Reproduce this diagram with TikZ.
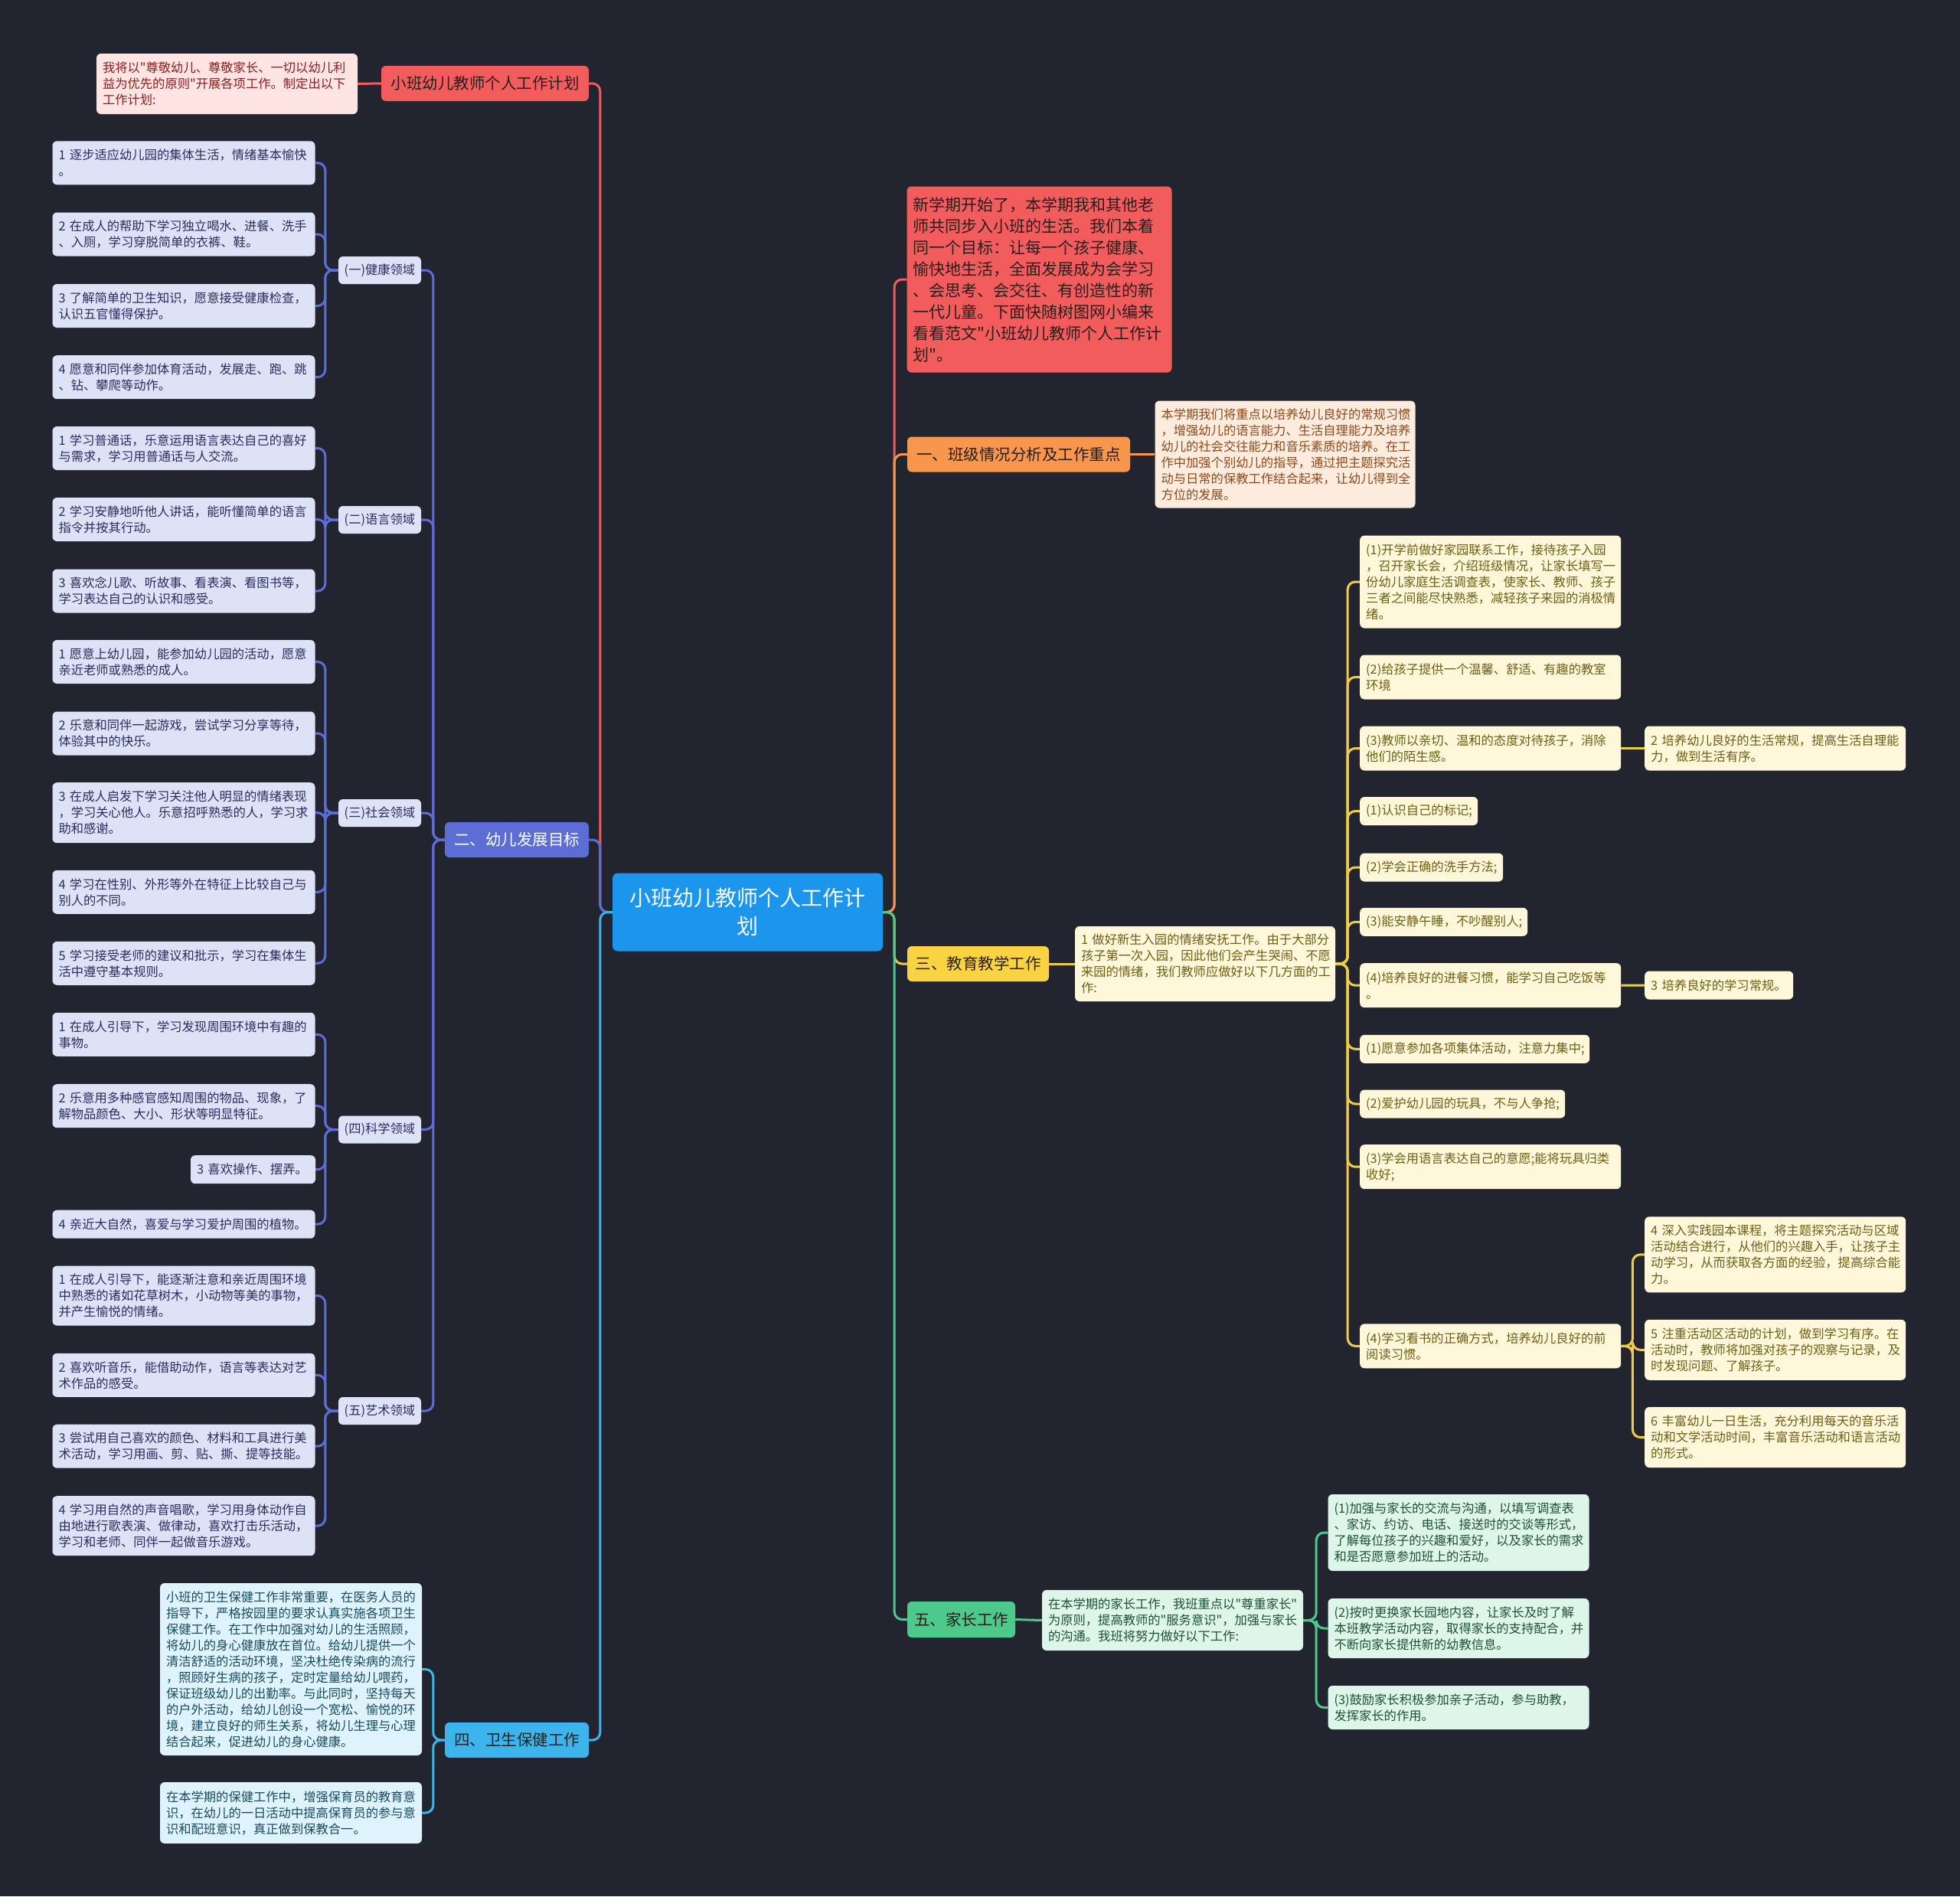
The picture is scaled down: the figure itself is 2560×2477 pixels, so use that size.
\documentclass[tikz,border=0pt]{standalone}
\usepackage{fontspec}
\setmainfont{Noto Sans CJK SC}[Ligatures=TeXOff]
\usetikzlibrary{backgrounds}
\definecolor{bg}{RGB}{34,37,47}
\definecolor{rootC}{RGB}{28,150,236}
\definecolor{redC}{RGB}{242,92,92}
\definecolor{redL}{RGB}{255,228,228}
\definecolor{redT}{RGB}{140,30,30}
\definecolor{oraC}{RGB}{247,150,76}
\definecolor{oraL}{RGB}{253,236,221}
\definecolor{oraT}{RGB}{140,74,28}
\definecolor{yelC}{RGB}{250,211,66}
\definecolor{yelL}{RGB}{254,247,218}
\definecolor{yelT}{RGB}{110,94,20}
\definecolor{yelLine}{RGB}{240,204,70}
\definecolor{grnC}{RGB}{77,201,139}
\definecolor{grnL}{RGB}{222,245,233}
\definecolor{grnT}{RGB}{30,80,52}
\definecolor{purC}{RGB}{92,110,214}
\definecolor{purL}{RGB}{222,226,246}
\definecolor{purT}{RGB}{40,46,92}
\definecolor{bluC}{RGB}{62,180,236}
\definecolor{bluL}{RGB}{222,243,252}
\definecolor{bluT}{RGB}{24,74,96}
\definecolor{darkT}{RGB}{40,30,30}
\begin{document}
\begin{tikzpicture}[x=1pt,y=-1pt,
  boxS/.style={rounded corners=6pt, inner xsep=8pt, inner ysep=0pt, align=left, font=\fontsize{16.3}{21}\selectfont},
  ttlS/.style={rounded corners=6pt, inner xsep=8pt, inner ysep=0pt, align=center, minimum height=46pt, font=\fontsize{20.5}{26}\selectfont},
  rootS/.style={rounded corners=7pt, inner xsep=8pt, inner ysep=0pt, align=center, fill=rootC, text=white, text width=337pt, minimum height=102pt, font=\fontsize{28}{37}\selectfont},
  lvS/.style={boxS, fill=purL, text=purT, text width=327pt},
  domS/.style={boxS, align=center, fill=purL, text=purT, text width=94pt, inner xsep=7pt, minimum height=36pt},
  blS/.style={boxS, fill=bluL, text=bluT, text width=326pt},
  ylS/.style={boxS, fill=yelL, text=yelT, anchor=west},
  ylW/.style={ylS, text width=325pt},
  grS/.style={boxS, fill=grnL, text=grnT, text width=325pt},
  conn/.style={line width=3pt, rounded corners=10pt}]
\useasboundingbox (0,0) rectangle (2560,2477);

% root
\node[rootS] (root) at (976.5,1191.5) {小班幼儿教师个人工作计\\划};

% ---------- left side ----------
\node[ttlS, fill=redC, text=darkT, text width=255pt] (t1) at (633.5,109) {小班幼儿教师个人工作计划};
\node[boxS, fill=redL, text=redT, text width=325pt, minimum height=79pt] (n1) at (296.5,109.5) {我将以"尊敬幼儿、尊敬家长、一切以幼儿利\\益为优先的原则"开展各项工作。制定出以下\\工作计划:};

\node[ttlS, fill=purC, text=white, text width=172pt] (L2) at (675,1097) {二、幼儿发展目标};
\node[ttlS, fill=bluC, text=darkT, text width=172pt] (L4) at (675,2273) {四、卫生保健工作};

\node[domS] (d1) at (496,353) {(一)健康领域};
\node[domS] (d2) at (496,679) {(二)语言领域};
\node[domS] (d3) at (496,1062) {(三)社会领域};
\node[domS] (d4) at (496,1475.5) {(四)科学领域};
\node[domS] (d5) at (496,1843) {(五)艺术领域};

\node[lvS, minimum height=57pt] (h1) at (240,212.8) {1 逐步适应幼儿园的集体生活，情绪基本愉快\\。};
\node[lvS, minimum height=57pt] (h2) at (240,306) {2 在成人的帮助下学习独立喝水、进餐、洗手\\、入厕，学习穿脱简单的衣裤、鞋。};
\node[lvS, minimum height=57pt] (h3) at (240,399.5) {3 了解简单的卫生知识，愿意接受健康检查，\\认识五官懂得保护。};
\node[lvS, minimum height=57pt] (h4) at (240,492.7) {4 愿意和同伴参加体育活动，发展走、跑、跳\\、钻、攀爬等动作。};

\node[lvS, minimum height=57pt] (l1) at (240,585.5) {1 学习普通话，乐意运用语言表达自己的喜好\\与需求，学习用普通话与人交流。};
\node[lvS, minimum height=57pt] (l2) at (240,678.5) {2 学习安静地听他人讲话，能听懂简单的语言\\指令并按其行动。};
\node[lvS, minimum height=57pt] (l3) at (240,772) {3 喜欢念儿歌、听故事、看表演、看图书等，\\学习表达自己的认识和感受。};

\node[lvS, minimum height=57pt] (s1) at (240,864.5) {1 愿意上幼儿园，能参加幼儿园的活动，愿意\\亲近老师或熟悉的成人。};
\node[lvS, minimum height=57pt] (s2) at (240,958) {2 乐意和同伴一起游戏，尝试学习分享等待，\\体验其中的快乐。};
\node[lvS, minimum height=79pt] (s3) at (240,1061.7) {3 在成人启发下学习关注他人明显的情绪表现\\，学习关心他人。乐意招呼熟悉的人，学习求\\助和感谢。};
\node[lvS, minimum height=57pt] (s4) at (240,1165.3) {4 学习在性别、外形等外在特征上比较自己与\\别人的不同。};
\node[lvS, minimum height=57pt] (s5) at (240,1258.3) {5 学习接受老师的建议和批示，学习在集体生\\活中遵守基本规则。};

\node[lvS, minimum height=57pt] (c1) at (240,1351.3) {1 在成人引导下，学习发现周围环境中有趣的\\事物。};
\node[lvS, minimum height=57pt] (c2) at (240,1444.7) {2 乐意用多种感官感知周围的物品、现象，了\\解物品颜色、大小、形状等明显特征。};
\node[lvS, text width=147pt, minimum height=37pt] (c3) at (330.5,1527.7) {3 喜欢操作、摆弄。};
\node[lvS, minimum height=37pt] (c4) at (240,1599.2) {4 亲近大自然，喜爱与学习爱护周围的植物。};

\node[lvS, minimum height=78pt] (a1) at (240,1692.5) {1 在成人引导下，能逐渐注意和亲近周围环境\\中熟悉的诸如花草树木，小动物等美的事物，\\并产生愉悦的情绪。};
\node[lvS, minimum height=57pt] (a2) at (240,1796.3) {2 喜欢听音乐，能借助动作，语言等表达对艺\\术作品的感受。};
\node[lvS, minimum height=57pt] (a3) at (240,1889.2) {3 尝试用自己喜欢的颜色、材料和工具进行美\\术活动，学习用画、剪、贴、撕、提等技能。};
\node[lvS, minimum height=78pt] (a4) at (240,1993.2) {4 学习用自然的声音唱歌，学习用身体动作自\\由地进行歌表演、做律动，喜欢打击乐活动，\\学习和老师、同伴一起做音乐游戏。};

\node[blS, minimum height=225pt] (b1) at (380,2180.5) {小班的卫生保健工作非常重要，在医务人员的\\指导下，严格按园里的要求认真实施各项卫生\\保健工作。在工作中加强对幼儿的生活照顾，\\将幼儿的身心健康放在首位。给幼儿提供一个\\清洁舒适的活动环境，坚决杜绝传染病的流行\\，照顾好生病的孩子，定时定量给幼儿喂药，\\保证班级幼儿的出勤率。与此同时，坚持每天\\的户外活动，给幼儿创设一个宽松、愉悦的环\\境，建立良好的师生关系，将幼儿生理与心理\\结合起来，促进幼儿的身心健康。};
\node[blS, minimum height=80pt] (b2) at (380,2368) {在本学期的保健工作中，增强保育员的教育意\\识，在幼儿的一日活动中提高保育员的参与意\\识和配班意识，真正做到保教合一。};

% ---------- right side ----------
\node[boxS, fill=redC, text=darkT, text width=330pt, minimum height=243pt, font=\fontsize{21}{28}\selectfont] (r0) at (1357.5,365) {新学期开始了，本学期我和其他老\\师共同步入小班的生活。我们本着\\同一个目标：让每一个孩子健康、\\愉快地生活，全面发展成为会学习\\、会思考、会交往、有创造性的新\\一代儿童。下面快随树图网小编来\\看看范文"小班幼儿教师个人工作计\\划"。};

\node[ttlS, fill=oraC, text=darkT, text width=275pt] (r1) at (1330.5,593.5) {一、班级情况分析及工作重点};
\node[boxS, fill=oraL, text=oraT, text width=324pt, minimum height=140pt] (r1n) at (1678.5,593.5) {本学期我们将重点以培养幼儿良好的常规习惯\\，增强幼儿的语言能力、生活自理能力及培养\\幼儿的社会交往能力和音乐素质的培养。在工\\作中加强个别幼儿的指导，通过把主题探究活\\动与日常的保教工作结合起来，让幼儿得到全\\方位的发展。};

\node[ttlS, fill=yelC, text=darkT, text width=169pt] (r3) at (1277.5,1259) {三、教育教学工作};
\node[boxS, fill=yelL, text=yelT, text width=324pt, minimum height=98pt] (r3n) at (1574,1259) {1 做好新生入园的情绪安抚工作。由于大部分\\孩子第一次入园，因此他们会产生哭闹、不愿\\来园的情绪，我们教师应做好以下几方面的工\\作:};

\node[ylW, minimum height=121pt] (ya) at (1776,760) {(1)开学前做好家园联系工作，接待孩子入园\\，召开家长会，介绍班级情况，让家长填写一\\份幼儿家庭生活调查表，使家长、教师、孩子\\三者之间能尽快熟悉，减轻孩子来园的消极情\\绪。};
\node[ylW, minimum height=58pt] (yb) at (1776,884.5) {(2)给孩子提供一个温馨、舒适、有趣的教室\\环境};
\node[ylW, minimum height=58pt] (yc) at (1776,977.5) {(3)教师以亲切、温和的态度对待孩子，消除\\他们的陌生感。};
\node[ylS, text width=138pt, minimum height=37pt] (yd) at (1776,1059.5) {(1)认识自己的标记;};
\node[ylS, text width=171pt, minimum height=37pt] (ye) at (1776,1133) {(2)学会正确的洗手方法;};
\node[ylS, text width=203pt, minimum height=37pt] (yf) at (1776,1204.3) {(3)能安静午睡，不吵醒别人;};
\node[ylW, minimum height=58pt] (yg) at (1776,1287.2) {(4)培养良好的进餐习惯，能学习自己吃饭等\\。};
\node[ylS, text width=284pt, minimum height=37pt] (yh) at (1776,1370.3) {(1)愿意参加各项集体活动，注意力集中;};
\node[ylS, text width=252pt, minimum height=37pt] (yi) at (1776,1442) {(2)爱护幼儿园的玩具，不与人争抢;};
\node[ylW, minimum height=58pt] (yj) at (1776,1524.2) {(3)学会用语言表达自己的意愿;能将玩具归类\\收好;};
\node[ylW, minimum height=58pt] (yk) at (1776,1758.3) {(4)学习看书的正确方式，培养幼儿良好的前\\阅读习惯。};

\node[ylW, minimum height=58pt] (yc2) at (2148,977.5) {2 培养幼儿良好的生活常规，提高生活自理能\\力，做到生活有序。};
\node[ylS, text width=178pt, minimum height=37pt] (yg2) at (2148,1287) {3 培养良好的学习常规。};
\node[ylW, minimum height=99pt] (yk4) at (2148,1638.8) {4 深入实践园本课程，将主题探究活动与区域\\活动结合进行，从他们的兴趣入手，让孩子主\\动学习，从而获取各方面的经验，提高综合能\\力。};
\node[ylW, minimum height=79pt] (yk5) at (2148,1763.3) {5 注重活动区活动的计划，做到学习有序。在\\活动时，教师将加强对孩子的观察与记录，及\\时发现问题、了解孩子。};
\node[ylW, minimum height=79pt] (yk6) at (2148,1877.5) {6 丰富幼儿一日生活，充分利用每天的音乐活\\动和文学活动时间，丰富音乐活动和语言活动\\的形式。};

\node[ttlS, fill=grnC, text=darkT, text width=125pt, minimum height=47pt] (r5) at (1255.5,2115.5) {五、家长工作};
\node[grS, minimum height=79pt] (r5n) at (1531.5,2116.5) {在本学期的家长工作，我班重点以"尊重家长"\\为原则，提高教师的"服务意识"，加强与家长\\的沟通。我班将努力做好以下工作:};
\node[grS, minimum height=100pt] (g1) at (1905,2002) {(1)加强与家长的交流与沟通，以填写调查表\\、家访、约访、电话、接送时的交谈等形式，\\了解每位孩子的兴趣和爱好，以及家长的需求\\和是否愿意参加班上的活动。};
\node[grS, minimum height=78pt] (g2) at (1905,2127) {(2)按时更换家长园地内容，让家长及时了解\\本班教学活动内容，取得家长的支持配合，并\\不断向家长提供新的幼教信息。};
\node[grS, minimum height=57pt] (g3) at (1905,2230.5) {(3)鼓励家长积极参加亲子活动，参与助教，\\发挥家长的作用。};

% ---------- connectors ----------
\begin{scope}[on background layer]
\fill[bg] (0,0) rectangle (2560,2477);
% left main
\draw[conn, redC] (root.west) -- ++(-16,0) |- (t1.east);
\draw[conn, purC] (root.west) -- ++(-16,0) |- (L2.east);
\draw[conn, bluC] (root.west) -- ++(-16,0) |- (L4.east);
\draw[conn, redC] (t1.west) -- (n1.east);
\foreach \d in {d1,d2,d3,d4,d5} \draw[conn, purC] (L2.west) -- ++(-15,0) |- (\d.east);
\foreach \l in {h1,h2,h3,h4} \draw[conn, purC] (d1.west) -- ++(-17,0) |- (\l.east);
\foreach \l in {l1,l2,l3} \draw[conn, purC] (d2.west) -- ++(-17,0) |- (\l.east);
\foreach \l in {s1,s2,s3,s4,s5} \draw[conn, purC] (d3.west) -- ++(-17,0) |- (\l.east);
\foreach \l in {c1,c2,c3,c4} \draw[conn, purC] (d4.west) -- ++(-17,0) |- (\l.east);
\foreach \l in {a1,a2,a3,a4} \draw[conn, purC] (d5.west) -- ++(-17,0) |- (\l.east);
\foreach \l in {b1,b2} \draw[conn, bluC] (L4.west) -- ++(-15,0) |- (\l.east);
% right main
\draw[conn, redC] (root.east) -- ++(15,0) |- (r0.west);
\draw[conn, oraC] (root.east) -- ++(15,0) |- (r1.west);
\draw[conn, yelLine] (root.east) -- ++(15,0) |- (r3.west);
\draw[conn, grnC] (root.east) -- ++(15,0) |- (r5.west);
\draw[conn, oraC] (r1.east) -- (r1n.west);
\draw[conn, yelLine] (r3.east) -- (r3n.west);
\foreach \l in {ya,yb,yc,yd,ye,yf,yg,yh,yi,yj,yk} \draw[conn, yelLine] (r3n.east) -- ++(16,0) |- (\l.west);
\draw[conn, yelLine] (yc.east) -- (yc2.west);
\draw[conn, yelLine] (yg.east) -- (yg2.west);
\foreach \l in {yk4,yk5,yk6} \draw[conn, yelLine] (yk.east) -- ++(15,0) |- (\l.west);
\draw[conn, grnC] (r5.east) -- (r5n.west);
\foreach \l in {g1,g2,g3} \draw[conn, grnC] (r5n.east) -- ++(17,0) |- (\l.west);
\end{scope}
\end{tikzpicture}
\end{document}
